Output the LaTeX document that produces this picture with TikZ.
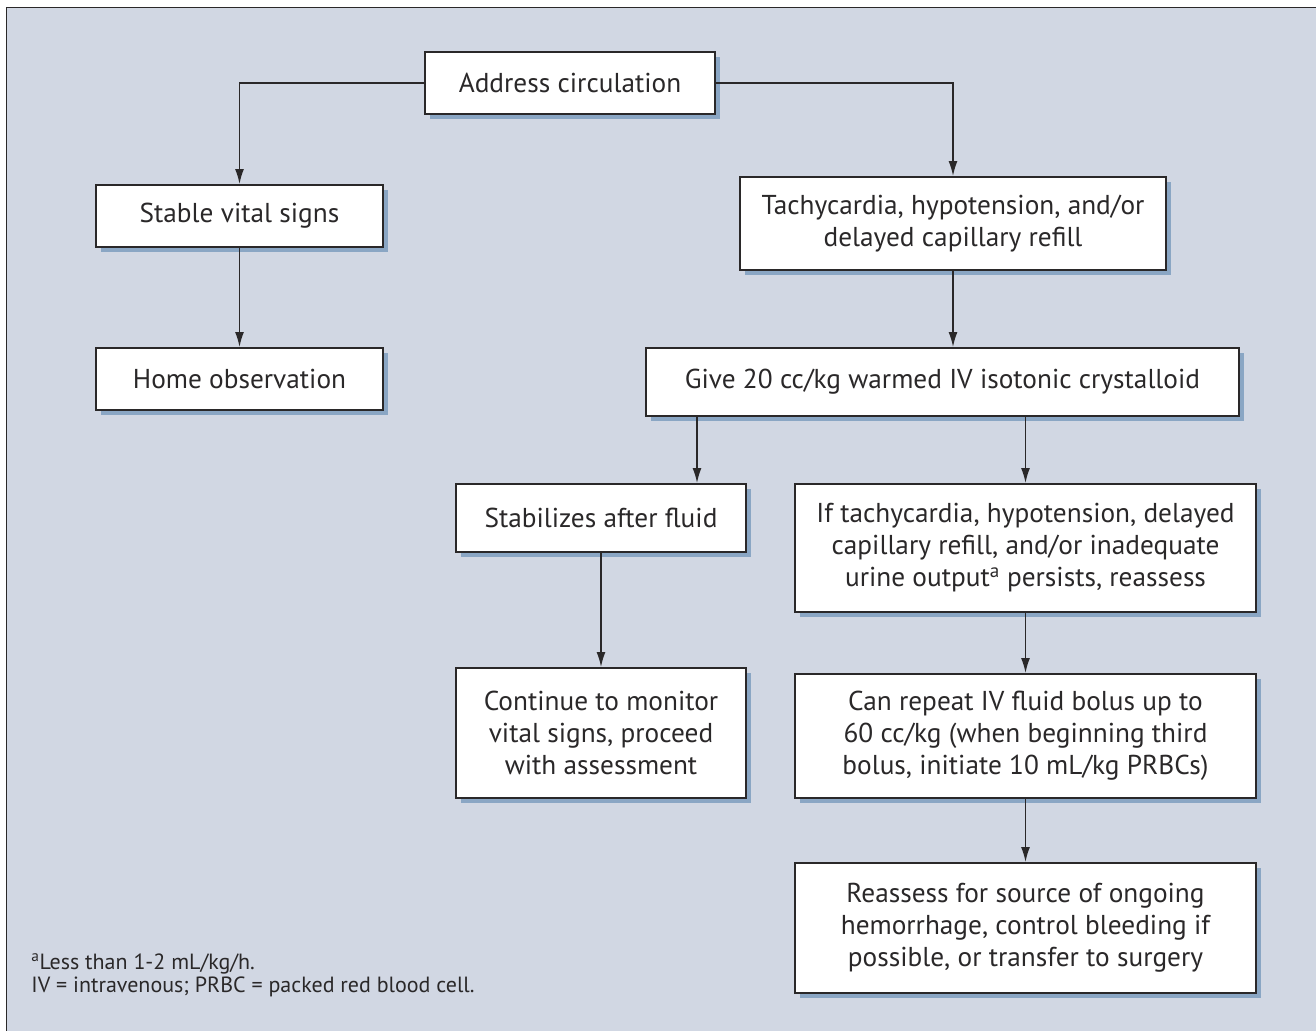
\documentclass[tikz,border=0pt]{standalone}
\usepackage{fontspec}
\setmainfont{PT Sans}
\usetikzlibrary{arrows.meta,shadows}
\definecolor{panel}{HTML}{D1D7E3}
\definecolor{shade}{HTML}{8AA6C4}
\definecolor{ink}{HTML}{2A2829}
\begin{document}
\begin{tikzpicture}[x=1pt, y=-1pt, thick]
\tikzset{box/.style={draw=ink, line width=2pt, fill=white, align=center, inner sep=0pt,
    text=ink, font=\fontsize{27.3}{32}\selectfont,
    drop shadow={shadow xshift=5pt, shadow yshift=-5pt, fill=shade, opacity=1}},
  arr/.style={draw=ink, line width=1.5pt, -{Latex[length=15pt, width=9pt]}}}
\useasboundingbox (0,0) rectangle (1316,1030);
\draw[draw=ink, line width=1.8pt, fill=panel] (6.5,7.5) rectangle (1340,1050);
\node[box, minimum width=290pt, minimum height=62pt] (addr) at (570,83) {Address circulation};
\node[box, minimum width=287pt, minimum height=62pt] (stable) at (239.5,216) {Stable vital signs};
\node[box, minimum width=287pt, minimum height=62pt] (home) at (239.5,379) {Home observation};
\node[box, minimum width=426pt, minimum height=93pt] (tachy) at (953,223.5) {Tachycardia, hypotension, and/or\\delayed capillary refill};
\node[box, minimum width=593pt, minimum height=68pt] (give) at (942.5,382) {Give 20 cc/kg warmed IV isotonic crystalloid};
\node[box, minimum width=290pt, minimum height=68pt] (stabil) at (601,518) {Stabilizes after fluid};
\node[box, minimum width=461pt, minimum height=128pt] (persist) at (1025.5,548) {If tachycardia, hypotension, delayed\\capillary refill, and/or inadequate\\urine output\textsuperscript{a} persists, reassess};
\node[box, minimum width=290pt, minimum height=130pt] (monitor) at (601,733) {Continue to monitor\\vital signs, proceed\\with assessment};
\node[box, minimum width=461pt, minimum height=124pt] (repeat) at (1025.5,736) {Can repeat IV fluid bolus up to\\60 cc/kg (when beginning third\\bolus, initiate 10 mL/kg PRBCs)};
\node[box, minimum width=461pt, minimum height=130pt] (surgery) at (1025.5,928) {Reassess for source of ongoing\\hemorrhage, control bleeding if\\possible, or transfer to surgery};
\node[anchor=west, align=left, inner sep=0pt, text=ink, font=\fontsize{22}{23}\selectfont] (note) at (31,975)
  {\textsuperscript{a}Less than 1-2 mL/kg/h.\\IV = intravenous; PRBC = packed red blood cell.};
\draw[arr] (addr.west) -| (stable);
\draw[arr] (addr.east) -| (tachy);
\draw[arr] (stable) -- (home);
\draw[arr] (tachy) -- (tachy |- give.north);
\draw[arr] ([xshift=52pt]give.south west) -- ([xshift=52pt]give.south west |- stabil.north);
\draw[arr] (persist.north |- give.south) -- (persist);
\draw[arr] (stabil) -- (monitor);
\draw[arr] (persist) -- (repeat);
\draw[arr] (repeat) -- (surgery);
\end{tikzpicture}
\end{document}
